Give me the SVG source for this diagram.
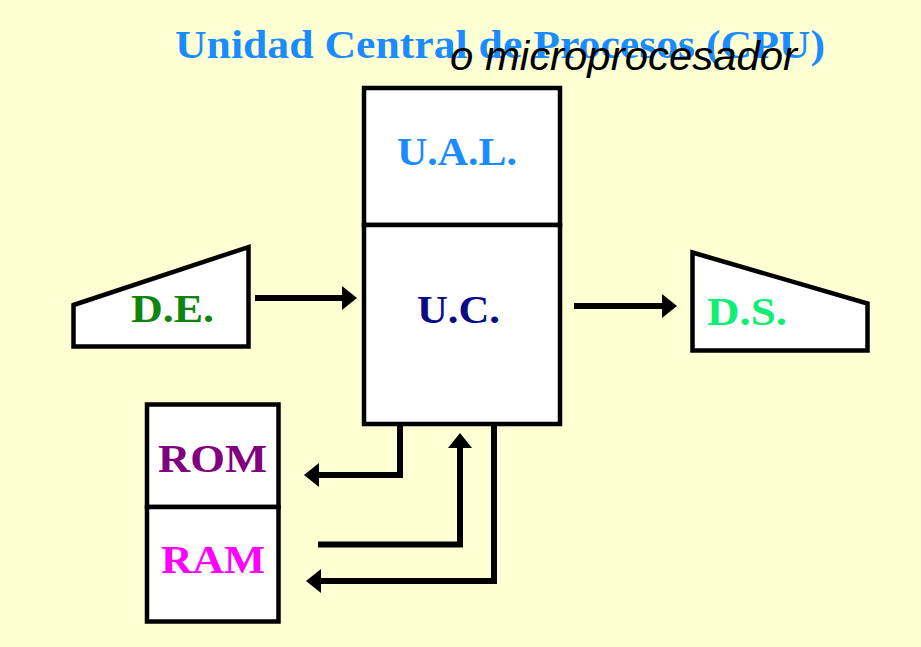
<svg xmlns="http://www.w3.org/2000/svg" width="921" height="647" viewBox="0 0 921 647">
  <style>
    .box { fill: #ffffff; stroke: #000000; stroke-width: 4.5; stroke-linejoin: miter; }
    .lbl { font-family: "Liberation Serif", "Times New Roman", serif; font-weight: bold; font-size: 40px; text-anchor: start; }
    .wire { fill: none; stroke: #000000; stroke-width: 6; stroke-linejoin: miter; stroke-linecap: butt; }
  </style>
  <defs>
    <marker id="arrow" viewBox="0 0 15 24" refX="0" refY="12" markerWidth="15" markerHeight="24" markerUnits="userSpaceOnUse" orient="auto">
      <path d="M0,0 L15,12 L0,24 z" fill="#000000"/>
    </marker>
  </defs>

  <!-- background -->
  <rect x="0" y="0" width="921" height="647" fill="#ffffd4"/>

  <!-- heading -->
  <g id="title">
    <text x="175" y="58" class="lbl" fill="#1a8cff" textLength="650" lengthAdjust="spacingAndGlyphs">Unidad Central de Procesos (CPU)</text>
    <text x="450" y="70" font-family="'Liberation Sans', Arial, sans-serif" font-style="italic" font-size="41" fill="#000000" textLength="347" lengthAdjust="spacingAndGlyphs">o microprocesador</text>
  </g>

  <!-- central processing unit: ALU over control unit -->
  <g id="ual">
    <rect class="box" x="364" y="88" width="196" height="137"/>
    <text x="397" y="165" class="lbl" fill="#1a8cff" textLength="120" lengthAdjust="spacingAndGlyphs">U.A.L.</text>
  </g>
  <g id="uc">
    <rect class="box" x="364" y="225" width="196" height="199"/>
    <text x="417" y="323" class="lbl" fill="#0a0a84" textLength="83" lengthAdjust="spacingAndGlyphs">U.C.</text>
  </g>

  <!-- input device -->
  <g id="de">
    <polygon class="box" points="73.5,305 248.5,247 248.5,346.5 73.5,346.5"/>
    <text x="131" y="322" class="lbl" fill="#0e860e" textLength="83" lengthAdjust="spacingAndGlyphs">D.E.</text>
  </g>

  <!-- output device -->
  <g id="ds">
    <polygon class="box" points="692.5,252.5 867.5,303.5 867.5,350.5 692.5,350.5"/>
    <text x="707" y="325" class="lbl" fill="#10ee74" textLength="80" lengthAdjust="spacingAndGlyphs">D.S.</text>
  </g>

  <!-- memory -->
  <g id="rom">
    <rect class="box" x="147" y="404.5" width="131.5" height="102.5"/>
    <text x="158" y="472" class="lbl" fill="#800080" textLength="109" lengthAdjust="spacingAndGlyphs">ROM</text>
  </g>
  <g id="ram">
    <rect class="box" x="147" y="507" width="131.5" height="114.5"/>
    <text x="161" y="573" class="lbl" fill="#ff00ff" textLength="104" lengthAdjust="spacingAndGlyphs">RAM</text>
  </g>

  <!-- connectors -->
  <g id="connectors">
    <path class="wire" d="M255,298 H342" marker-end="url(#arrow)"/>
    <path class="wire" d="M574,306 H662" marker-end="url(#arrow)"/>
    <path class="wire" d="M400,424 V475 H319" marker-end="url(#arrow)"/>
    <path class="wire" d="M318,544.5 H460 V448" marker-end="url(#arrow)"/>
    <path class="wire" d="M494,424 V581 H321" marker-end="url(#arrow)"/>
  </g>
</svg>
